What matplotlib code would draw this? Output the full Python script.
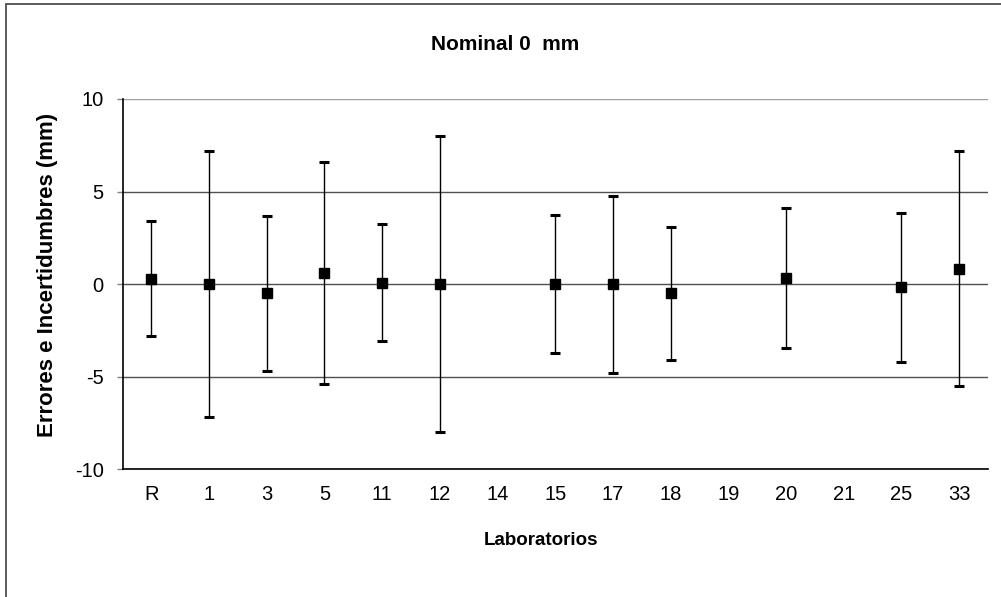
import numpy as np
import matplotlib
matplotlib.use('Agg')
import matplotlib.pyplot as plt
from matplotlib.patches import Rectangle

plt.rcParams['font.family'] = ['Liberation Sans', 'DejaVu Sans']
plt.rcParams['font.size'] = 14.5
plt.rcParams['axes.unicode_minus'] = False

# laboratory codes, error (mm) and expanded uncertainty (mm)
labs = ['R', '1', '3', '5', '11', '12', '14', '15', '17', '18', '19', '20', '21', '25', '33']
errors = [0.3, 0.0, -0.5, 0.6, 0.07, 0.0, np.nan, 0.0, 0.0, -0.5, np.nan, 0.33, np.nan, -0.18, 0.83]
uncert = [3.1, 7.2, 4.2, 6.0, 3.16, 8.0, np.nan, 3.73, 4.78, 3.6, np.nan, 3.8, np.nan, 4.0, 6.35]

x = np.arange(len(labs))

fig = plt.figure(figsize=(10.01, 5.97), dpi=100)
ax = fig.add_axes([0.1224, 0.2139, 0.8646, 0.6203])

# chart frame
fig.patches.append(Rectangle((0.0057, -0.1), 1.2, 0.1 + 0.9928, transform=fig.transFigure,
                             fill=False, edgecolor='#404040', linewidth=1.2))

ax.errorbar(x, errors, yerr=uncert, fmt='s', color='black', ecolor='black',
            markersize=6.8, elinewidth=1.0, capsize=3.8, capthick=2.2, zorder=3)

ax.set_xlim(-0.5, len(labs) - 0.5)
ax.set_ylim(-10, 10)
ax.set_yticks([-10, -5, 0, 5, 10])
ax.set_xticks(x)
ax.set_xticklabels(labs)
ax.tick_params(axis='x', length=0, pad=11)
ax.tick_params(axis='y', length=4.5, width=1.0, color='#808080', pad=9)

ax.yaxis.grid(True, color='#505050', linewidth=1.0)
ax.yaxis.get_gridlines()[-1].set_color('#a0a0a0')
ax.set_axisbelow(True)
for s in ('top', 'right'):
    ax.spines[s].set_visible(False)
for s in ('left', 'bottom'):
    ax.spines[s].set_color('black')
    ax.spines[s].set_linewidth(1.2)

fig.text(0.505, 0.925, 'Nominal 0  mm', ha='center', va='center', fontweight='bold', fontsize=15)
fig.text(0.540, 0.095, 'Laboratorios', ha='center', va='center', fontweight='bold', fontsize=13.5)
fig.text(0.047, 0.54, 'Errores e Incertidumbres (mm)', ha='center', va='center',
         rotation=90, fontweight='bold', fontsize=16)

fig.savefig('out.png', dpi=100)
